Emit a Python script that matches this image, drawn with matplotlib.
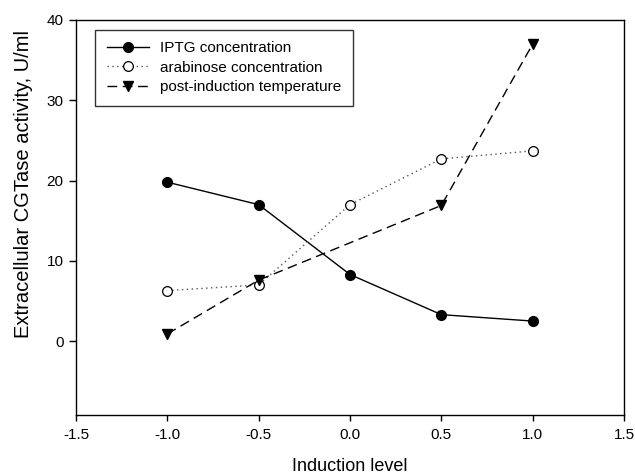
import matplotlib.pyplot as plt

plt.rcParams['font.family'] = ['Liberation Sans', 'DejaVu Sans']

# Induction levels and measured activities
levels = [-1.0, -0.5, 0.0, 0.5, 1.0]
iptg = [19.8, 17.0, 8.3, 3.3, 2.5]
arabinose = [6.3, 7.0, 17.0, 22.7, 23.7]
temp_levels = [-1.0, -0.5, 0.5, 1.0]
temperature = [0.9, 7.6, 16.9, 37.0]

fig = plt.figure(figsize=(6.35, 4.75), dpi=100)
ax = fig.add_axes([0.1197, 0.1263, 0.8630, 0.8316])

ax.plot(levels, iptg, color='black', linestyle='-', linewidth=1.0,
        marker='o', markersize=7, markerfacecolor='black',
        label='IPTG concentration')
ax.plot(levels, arabinose, color='#555555', linestyle=(0, (1, 2.5)), linewidth=1.0,
        marker='o', markersize=7, markerfacecolor='white', markeredgecolor='black',
        markeredgewidth=0.9, label='arabinose concentration')
ax.plot(temp_levels, temperature, color='black', linestyle=(0, (7, 4)), linewidth=1.0,
        marker='v', markersize=7, markerfacecolor='black',
        label='post-induction temperature')

ax.set_xlim(-1.5, 1.5)
ax.set_ylim(-9.2, 40)
ax.set_xticks([-1.5, -1.0, -0.5, 0.0, 0.5, 1.0, 1.5])
ax.set_xticklabels(['-1.5', '-1.0', '-0.5', '0.0', '0.5', '1.0', '1.5'])
ax.set_yticks([0, 10, 20, 30, 40])
ax.tick_params(axis='x', direction='out', length=4, width=1, labelsize=11, pad=5)
ax.tick_params(axis='y', direction='out', length=5, width=1, labelsize=11, pad=4)

for s in ax.spines.values():
    s.set_linewidth(1.0)

ax.set_xlabel('Induction level', fontsize=13, va='top')
ax.xaxis.set_label_coords(0.5, -0.108)
ax.set_ylabel('Extracellular CGTase activity, U/ml', fontsize=14.5)
ax.yaxis.set_label_coords(-0.079, 0.585)

leg = ax.legend(loc='upper left', bbox_to_anchor=(0.021, 0.994), fontsize=11,
                frameon=True, fancybox=False, edgecolor='black', borderpad=0.75,
                handlelength=2.8, labelspacing=0.35, handletextpad=0.7)
leg.get_frame().set_linewidth(1.0)

fig.savefig('out.png', dpi=100)
